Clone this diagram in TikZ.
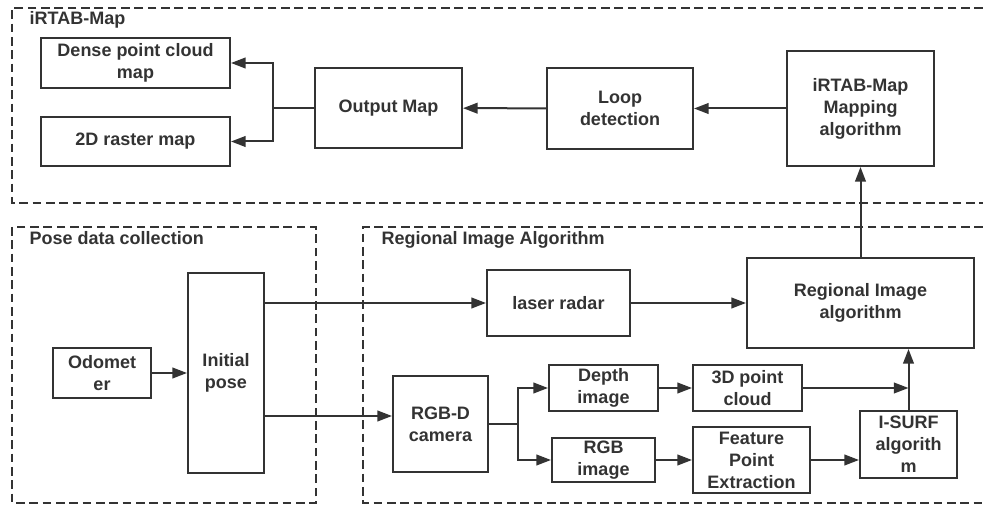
\documentclass[tikz,border=0pt]{standalone}
\usepackage{fontspec}
\setmainfont{Liberation Sans}
\usetikzlibrary{positioning,arrows.meta,calc}

\begin{document}
\begin{tikzpicture}[x=0.75pt,y=-0.75pt,
  every node/.style={font=\fontsize{13.5}{16.5}\selectfont\bfseries, text=black!80},
  blk/.style={draw=black!80, line width=1.5pt, inner sep=0pt, align=center},
  grp/.style={draw=black!80, line width=1.4pt, dash pattern=on 6.5pt off 3.5pt},
  ln/.style={draw=black!80, line width=1.5pt},
  arr/.style={ln, -{Triangle[length=11pt,width=8pt]}}]
  \useasboundingbox (0,0) rectangle (983,505);

  \draw[grp] (983,8) -- (12,8) -- (12,203) -- (983,203);
  \draw[grp] (12,227) rectangle (316,503);
  \draw[grp] (983,227) -- (363,227) -- (363,503) -- (983,503);
  \node[anchor=base west] (lblmap) at (25,25) {iRTAB-Map};
  \node[anchor=base west] (lblpose) at (25,245) {Pose data collection};
  \node[anchor=base west] (lblreg) at (377,245) {Regional Image Algorithm};

  \node[blk, minimum width=141.75pt, minimum height=37.5pt] (dense) at (135.5,63) {Dense point cloud\\map};
  \node[blk, minimum width=141.75pt, minimum height=36.75pt] (raster) at (135.5,141.5) {2D raster map};
  \node[blk, minimum width=110.25pt, minimum height=60pt] (output) at (388.5,108) {Output Map};
  \node[blk, minimum width=109.5pt, minimum height=60.75pt] (loop) at (620,108.5) {Loop\\detection};
  \node[blk, minimum width=110.25pt, minimum height=86.25pt] (mapping) at (860.5,108.5) {iRTAB-Map\\Mapping\\algorithm};

  \node[blk, minimum width=73.5pt, minimum height=37.5pt] (odom) at (102,373) {Odomet\\er};
  \node[blk, minimum width=57pt, minimum height=150pt] (init) at (226,373) {Initial\\pose};
  \node[blk, minimum width=71.25pt, minimum height=72pt] (rgbd) at (440.5,424) {RGB-D\\camera};
  \node[blk, minimum width=107.25pt, minimum height=49.5pt] (laser) at (558.5,303) {laser radar};
  \node[blk, minimum width=170.25pt, minimum height=67.5pt] (regional) at (860.5,303) {Regional Image\\algorithm};
  \node[blk, minimum width=81.75pt, minimum height=34.5pt] (depth) at (603.5,388) {Depth\\image};
  \node[blk, minimum width=81.75pt, minimum height=34.5pt] (cloud) at (747.5,388) {3D point\\cloud};
  \node[blk, minimum width=77.25pt, minimum height=33pt] (rgb) at (603.5,460) {RGB\\image};
  \node[blk, minimum width=87.75pt, minimum height=49.5pt] (feature) at (751.5,460) {Feature\\Point\\Extraction};
  \node[blk, minimum width=72.75pt, minimum height=50.25pt] (isurf) at (908.5,444.5) {I-SURF\\algorith\\m};

  \draw[arr] (mapping) -- (loop);
  \draw[arr] (loop) -- (output);
  \coordinate (split) at (273,108);
  \draw[ln] (output.west) -- (split);
  \draw[arr] (split) |- (dense.east);
  \draw[arr] (split) |- (raster.east);

  \draw[arr] (odom.east) -- (odom.east -| init.west);
  \draw[arr] (init.east |- laser) -- (laser);
  \draw[arr] (laser) -- (regional);
  \coordinate (camin) at ([yshift=6pt]rgbd.west);
  \draw[arr] (init.east |- camin) -- (camin);
  \coordinate (fork) at (518,424);
  \draw[ln] (rgbd.east) -- (fork);
  \draw[arr] (fork) |- (depth.west);
  \draw[arr] (fork) |- (rgb.west);
  \draw[arr] (depth) -- (cloud);
  \draw[arr] (rgb) -- (feature);
  \draw[arr] (feature.east) -- (feature.east -| isurf.west);
  \draw[arr] (cloud.east) -- (cloud.east -| isurf.north);
  \draw[arr] (isurf.north) -- (isurf.north |- regional.south);
  \draw[arr] (regional) -- (mapping);
\end{tikzpicture}
\end{document}
